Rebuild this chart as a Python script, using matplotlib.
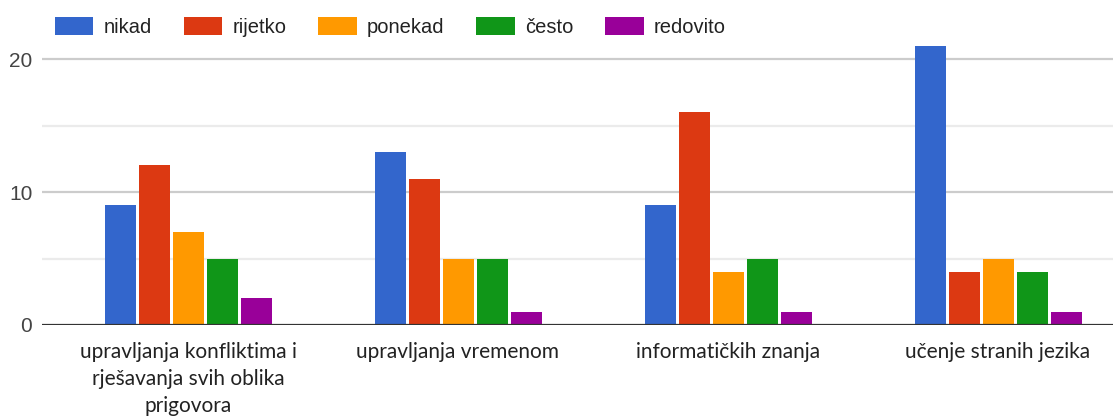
import numpy as np
import matplotlib
matplotlib.use('Agg')
import matplotlib.pyplot as plt

categories = ['upravljanja konfliktima i\nrješavanja svih oblika\nprigovora',
              'upravljanja vremenom',
              'informatičkih znanja',
              'učenje stranih jezika']
series = ['nikad', 'rijetko', 'ponekad', 'često', 'redovito']
nikad = [9, 13, 9, 21]
rijetko = [12, 11, 16, 4]
ponekad = [7, 5, 4, 5]
cesto = [5, 5, 5, 4]
redovito = [2, 1, 1, 1]
yticks = [0, 10, 20]


def main():
    W, H = 1113, 417
    fig = plt.figure(figsize=(W / 100, H / 100), dpi=100)

    # axes placed in pixel units
    left, bottom, top = 42, 325, 40
    ax = fig.add_axes([left / W, (H - bottom) / H, (W - left) / W,
                       (bottom - top) / H])
    px_per_unit = 13.3
    ax.set_ylim(0, (bottom - top) / px_per_unit)
    pitch = 270.0
    ax.set_xlim(-146 / pitch, (W - 188) / pitch)

    colors = ['#3366cc', '#dc3912', '#ff9900', '#109618', '#990099']
    values = [nikad, rijetko, ponekad, cesto, redovito]
    x = np.arange(len(categories))
    step = 34 / pitch
    width = 31 / pitch
    for i, (name, vals, c) in enumerate(zip(series, values, colors)):
        ax.bar(x + (i - 2) * step, vals, width, color=c, label=name,
               zorder=3)

    # grid
    for v in [5, 15]:
        ax.axhline(v, color='#ebebeb', lw=1.6, zorder=1)
    for v in [10, 20]:
        ax.axhline(v, color='#cccccc', lw=1.6, zorder=1)
    ax.axhline(0, color='#333333', lw=1.6, zorder=4)

    for s in ax.spines.values():
        s.set_visible(False)
    ax.set_yticks(yticks)
    ax.set_yticklabels([str(t) for t in yticks], fontsize=15,
                       color='#444444', family='Liberation Sans')
    ax.tick_params(axis='y', length=0, pad=7)
    ax.set_xticks(x)
    ax.set_xticklabels(categories, fontsize=15, family='Lato',
                       color='#222222', linespacing=1.44)
    ax.tick_params(axis='x', length=0, pad=12)

    leg = ax.legend(loc='center left', bbox_to_anchor=(55 / W, 1 - 27 / H),
                    bbox_transform=fig.transFigure, ncol=5, frameon=False,
                    prop={'family': 'Liberation Sans', 'size': 14.5},
                    handlelength=1.9, handleheight=0.95, handletextpad=0.5,
                    columnspacing=1.6, borderpad=0, borderaxespad=0)
    for t in leg.get_texts():
        t.set_color('#222222')

    fig.savefig('out.png', dpi=100)


if __name__ == '__main__':
    main()
